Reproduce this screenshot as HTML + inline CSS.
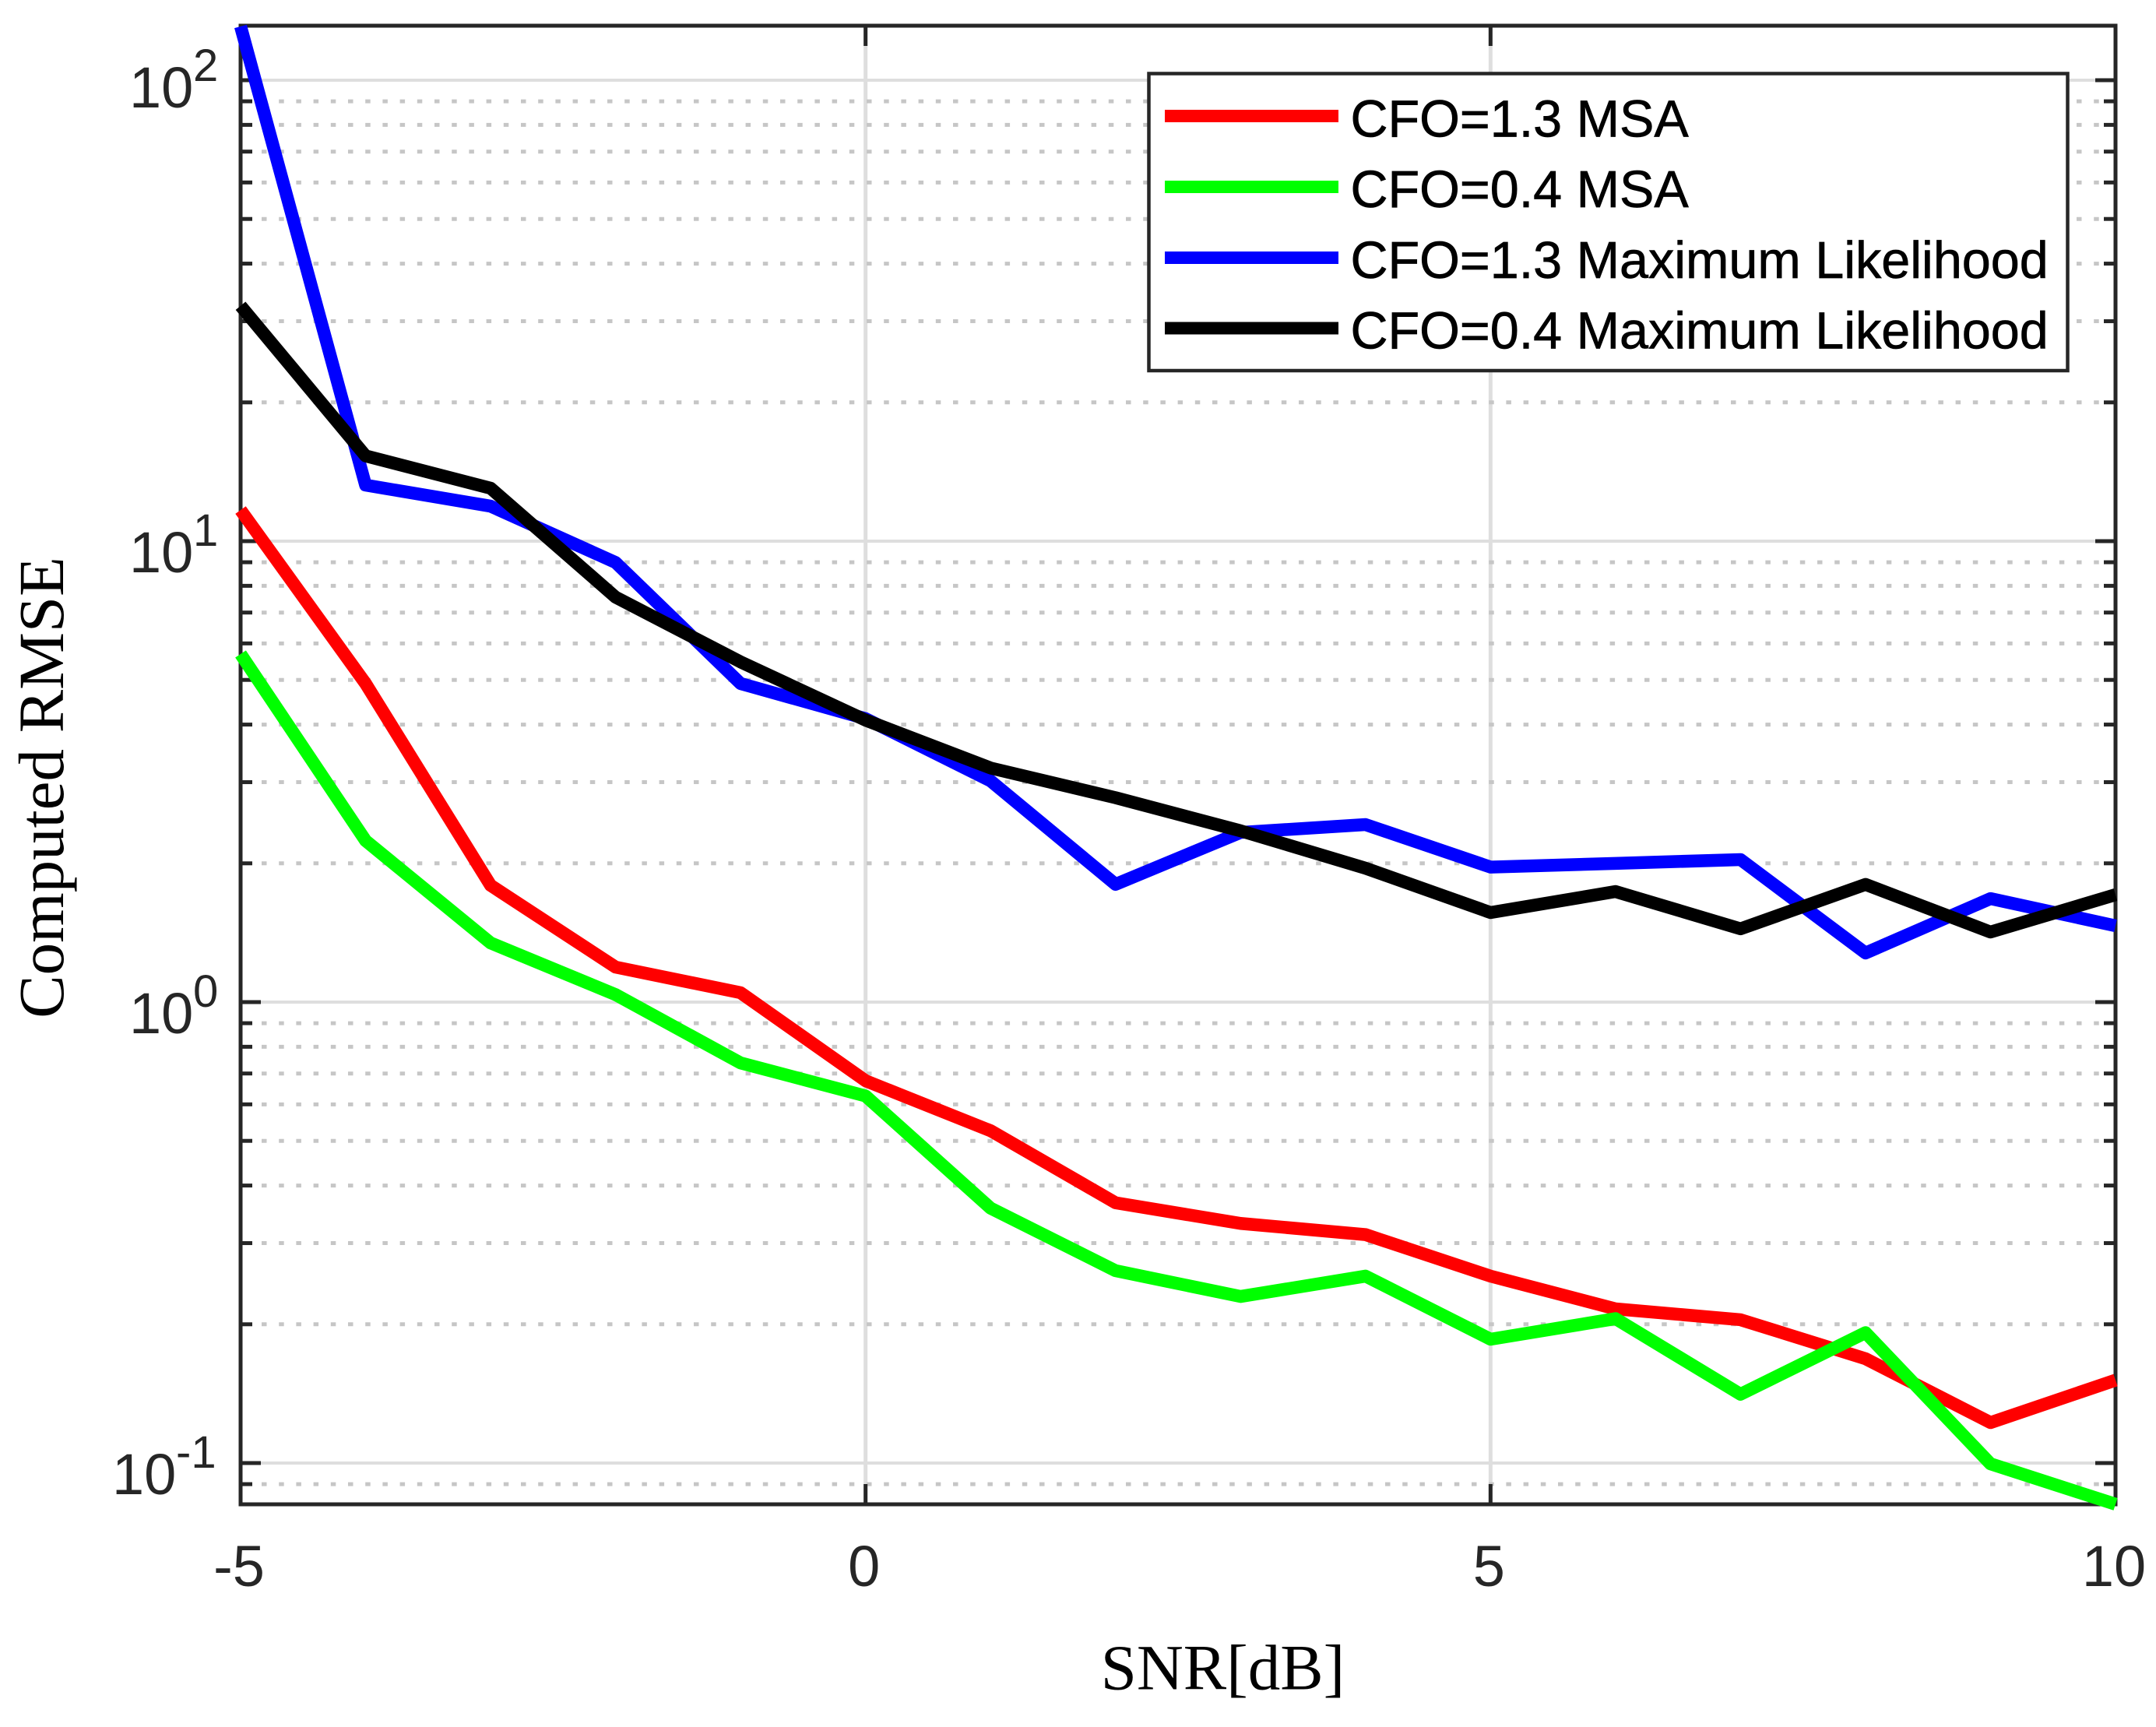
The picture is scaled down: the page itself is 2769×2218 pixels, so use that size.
<!DOCTYPE html>
<html lang="en">
<head>
<meta charset="utf-8">
<title>Computed RMSE vs SNR</title>
<style>
  html, body { margin: 0; padding: 0; background: #fff; }
  svg { display: block; }
  .tick-text { font-family: "Liberation Sans", sans-serif; fill: #262626; font-size: 74px; }
  .exp-text { font-family: "Liberation Sans", sans-serif; fill: #262626; font-size: 58px; }
  .axis-title { font-family: "Liberation Serif", serif; fill: #000; font-size: 83px; }
  .legend-text { font-family: "Liberation Sans", sans-serif; fill: #000; font-size: 66.5px; stroke: #000; stroke-width: 0.7px; }
</style>
</head>
<body>
<svg id="chart" xmlns="http://www.w3.org/2000/svg" width="2769" height="2218" viewBox="0 0 2769 2218">
  <rect x="0" y="0" width="2769" height="2218" fill="#ffffff"/>
  <g id="grid"></g>
  <g id="axes"></g>
  <g id="series"></g>

  <text class="axis-title" x="1570.5" y="2169.5" text-anchor="middle">SNR[dB]</text>
  <text class="axis-title" transform="translate(81 1011.5) rotate(-90)" text-anchor="middle">Computed RMSE</text>

  <g>
    <rect x="1475.5" y="94.5" width="1180" height="381.5" fill="#ffffff" stroke="#262626" stroke-width="4.5"/>
    <g>
      <line x1="1496" x2="1719" y1="149" y2="149" stroke="#ff0000" stroke-width="16"/>
      <text class="legend-text" x="1734.5" y="175.5">CFO=1.3 MSA</text>
    </g>
    <g>
      <line x1="1496" x2="1719" y1="240" y2="240" stroke="#00ff00" stroke-width="16"/>
      <text class="legend-text" x="1734.5" y="266">CFO=0.4 MSA</text>
    </g>
    <g>
      <line x1="1496" x2="1719" y1="331" y2="331" stroke="#0000ff" stroke-width="16"/>
      <text class="legend-text" x="1734.5" y="357">CFO=1.3 Maximum Likelihood</text>
    </g>
    <g>
      <line x1="1496" x2="1719" y1="421.5" y2="421.5" stroke="#000000" stroke-width="16"/>
      <text class="legend-text" x="1734.5" y="447.5">CFO=0.4 Maximum Likelihood</text>
    </g>
  </g>
</svg>

<script>
// ---- chart data ----
const snrDb = [-5, -4, -3, -2, -1, 0, 1, 2, 3, 4, 5, 6, 7, 8, 9, 10];
const rmseRedMsa13 = [11.68, 4.91, 1.792, 1.191, 1.048, 0.675, 0.526, 0.367, 0.331, 0.313, 0.2544, 0.216, 0.2046, 0.1684, 0.1224, 0.1513];
const rmseGreenMsa04 = [5.69, 2.24, 1.344, 1.038, 0.738, 0.6257, 0.3573, 0.2614, 0.2298, 0.2544, 0.1856, 0.2057, 0.141, 0.1918, 0.0996, 0.0814];
const rmseBlueMl13 = [130.8, 13.23, 11.91, 8.99, 4.91, 4.12, 3.02, 1.801, 2.334, 2.427, 1.963, 1.999, 2.038, 1.278, 1.677, 1.464];
const rmseBlackMl04 = [32.4, 15.31, 13.03, 7.56, 5.47, 4.09, 3.22, 2.776, 2.353, 1.952, 1.564, 1.737, 1.442, 1.8, 1.419, 1.71];
const xTickValues = [-5, 0, 5, 10];
const xTickLabels = ["-5", "0", "5", "10"];
const yDecadeExponents = [2, 1, 0, -1];
const yDecadeLabels = ["2", "1", "0", "-1"];
const yMinorMultipliers = [2, 3, 4, 5, 6, 7, 8, 9];

// ---- plot frame and axis functions ----
const plotLeft = 309, plotRight = 2717, plotTop = 33, plotBottom = 1932;
const xMin = -5, xMax = 10;
const yAtOne = 1287, pxPerDecade = 592;
const yLimitHigh = Math.pow(10, (yAtOne - plotTop) / pxPerDecade);
const yLimitLow = Math.pow(10, (yAtOne - plotBottom) / pxPerDecade);

function xScale(v) { return plotLeft + (v - xMin) / (xMax - xMin) * (plotRight - plotLeft); }
function yScale(v) { return yAtOne - Math.log10(v) * pxPerDecade; }

const SVGNS = "http://www.w3.org/2000/svg";
function make(tag, attrs, parent) {
  const node = document.createElementNS(SVGNS, tag);
  for (const k in attrs) node.setAttribute(k, attrs[k]);
  parent.appendChild(node);
  return node;
}

const gridGroup = document.getElementById("grid");
const axesGroup = document.getElementById("axes");
const seriesGroup = document.getElementById("series");

// vertical major grid
xTickValues.forEach(function (v) {
  if (v === xMin || v === xMax) return;
  const el = make("line", { x1: xScale(v), x2: xScale(v), y1: plotTop, y2: plotBottom, stroke: "#dedede", "stroke-width": 5 }, gridGroup);
  
  
});

// horizontal major grid
yDecadeExponents.forEach(function (e) {
  const y = yScale(Math.pow(10, e));
  const el = make("line", { x1: plotLeft, x2: plotRight, y1: y, y2: y, stroke: "#dedede", "stroke-width": 4 }, gridGroup);
  
  
});

// minor grid + minor ticks
const minorGridValues = [];
for (let e = -2; e <= 2; e++) {
  yMinorMultipliers.forEach(function (m) {
    const v = m * Math.pow(10, e);
    if (v > yLimitLow && v < yLimitHigh) minorGridValues.push(v);
  });
}
minorGridValues.forEach(function (v) {
  const y = yScale(v);
  const el = make("line", { x1: 336, x2: 2696, y1: y, y2: y, stroke: "#c6c6c6", "stroke-width": 5, "stroke-dasharray": "6.5 15.7" }, gridGroup);
  
  
  const tl = make("line", { x1: plotLeft, x2: plotLeft + 15, y1: y, y2: y, stroke: "#262626", "stroke-width": 5 }, axesGroup);
  
  
  const tr = make("line", { x1: plotRight - 15, x2: plotRight, y1: y, y2: y, stroke: "#262626", "stroke-width": 5 }, axesGroup);
  
  
});

// plot box
const box = make("rect", { x: plotLeft, y: plotTop, width: plotRight - plotLeft, height: plotBottom - plotTop, fill: "none", stroke: "#262626", "stroke-width": 5 }, axesGroup);



// x ticks and labels
xTickValues.forEach(function (v, i) {
  const x = xScale(v);
  const b = make("line", { x1: x, x2: x, y1: plotBottom, y2: plotBottom - 26, stroke: "#262626", "stroke-width": 5 }, axesGroup);
  
  
  const t = make("line", { x1: x, x2: x, y1: plotTop, y2: plotTop + 26, stroke: "#262626", "stroke-width": 5 }, axesGroup);
  
  
  const lab = make("text", { x: x - 2, y: 2037, "text-anchor": "middle", "class": "tick-text" }, axesGroup);
  
  
  lab.textContent = xTickLabels[i];
});

// y major ticks and labels
yDecadeExponents.forEach(function (e, i) {
  const y = yScale(Math.pow(10, e));
  const l = make("line", { x1: plotLeft, x2: plotLeft + 26, y1: y, y2: y, stroke: "#262626", "stroke-width": 5 }, axesGroup);
  
  
  const r = make("line", { x1: plotRight - 26, x2: plotRight, y1: y, y2: y, stroke: "#262626", "stroke-width": 5 }, axesGroup);
  
  
  const drop = e === 2 ? 35 : 40;
  const baseX = e < 0 ? 144 : 166;
  const base = make("text", { x: baseX, y: y + drop, "class": "tick-text" }, axesGroup);
  
  
  base.textContent = "10";
  const sup = make("text", { x: baseX + 82, y: y + drop - 34, "class": "exp-text" }, axesGroup);
  
  
  sup.textContent = yDecadeLabels[i];
});

// series
function drawSeries(values, color, name) {
  const pts = snrDb.map(function (x, i) { return xScale(x).toFixed(2) + "," + yScale(values[i]).toFixed(2); }).join(" ");
  const line = make("polyline", { points: pts, fill: "none", stroke: color, "stroke-width": 16.5, "stroke-linejoin": "round", "stroke-linecap": "butt" }, seriesGroup);
  
  
}
drawSeries(rmseRedMsa13, "#ff0000", "series-cfo-1-3-msa");
drawSeries(rmseGreenMsa04, "#00ff00", "series-cfo-0-4-msa");
drawSeries(rmseBlueMl13, "#0000ff", "series-cfo-1-3-maximum-likelihood");
drawSeries(rmseBlackMl04, "#000000", "series-cfo-0-4-maximum-likelihood");
</script>
</body>
</html>
